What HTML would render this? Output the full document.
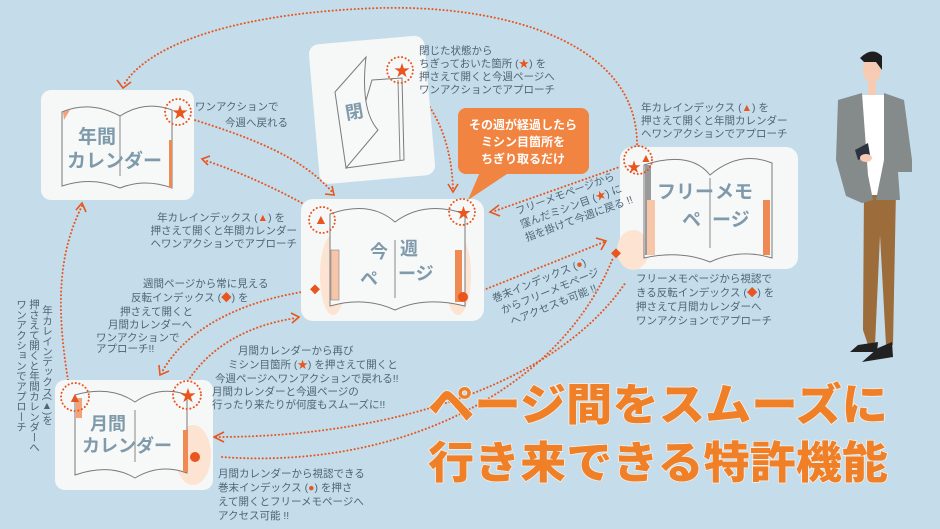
<!DOCTYPE html>
<html><head><meta charset="utf-8"><style>
html,body{margin:0;padding:0;background:#c5dcea;}
svg{display:block}
text{font-family:"Liberation Sans","Noto Sans CJK JP",sans-serif;}
.t{font-size:10.5px;fill:#4f6575}
.bk{fill:#f7f8f8;stroke:#7a7a7a;stroke-width:1}
.bl{font-weight:bold;fill:#7f9aab}
.d{fill:none;stroke:#e8551e;stroke-width:2;stroke-dasharray:0.1 3.6;stroke-linecap:round}
.c{fill:none;stroke:#e8551e;stroke-width:2;stroke-dasharray:0.1 3.6;stroke-linecap:round}
.ah{fill:none;stroke:#e8551e;stroke-width:1.6}
.o{fill:#e8551e}
</style></head><body>
<svg width="940" height="529" viewBox="0 0 940 529" xmlns="http://www.w3.org/2000/svg">
<rect width="940" height="529" fill="#c5dcea"/>

<!-- connectors -->
<path class="d" d="M637 148 C640 40 500 5 380 8 C250 12 150 40 123 86"/>
<path class="ah" d="M117 80 L123 88 L131 82"/>
<path class="d" d="M188 118 C260 140 305 160 333 193"/>
<path class="ah" d="M325 194 L334 195 L332 186"/>
<path class="d" d="M318 212 C280 190 240 172 204 160"/>
<path class="ah" d="M210 156 L202 159 L208 165"/>
<path class="d" d="M408 82 C440 110 452 150 453 190"/>
<path class="ah" d="M448 184 L453 192 L458 184"/>
<path class="d" d="M68 380 C55 300 60 250 82 206"/>
<path class="ah" d="M76 210 L82 203 L86 212"/>
<path class="d" d="M315 290 C240 300 185 330 162 372"/>
<path class="ah" d="M159 365 L160 375 L169 371"/>
<path class="d" d="M186 384 C210 345 250 325 296 318"/>
<path class="ah" d="M291 313 L299 317 L292 323"/>
<path class="d" d="M222 457 C400 470 560 390 613 258"/>
<path class="d" d="M216 437 C400 437 560 380 626 282"/>
<path class="ah" d="M224 432 L214 437 L224 442"/>
<path class="d" d="M628 164 L492 212"/>
<path class="ah" d="M499 205 L490 212 L500 216"/>
<path class="d" d="M466 297 L604 242"/>
<path class="ah" d="M596 238 L606 241 L601 250"/>

<!-- 年間 card -->
<rect x="41" y="90" width="153" height="110" rx="10" fill="#f6f7f7"/>
<path class="bk" d="M62 112 Q90 100 120 116 Q145 100 172 110 L172 188 Q145 178 120 188 Q92 176 62 186 Z"/>
<line x1="120" y1="116" x2="120" y2="176" stroke="#888"/>
<path d="M63 112 L70 110 L64 120 Z" fill="#f4a27a"/>
<rect x="169" y="140" width="3" height="48" fill="#f08a55"/>
<text class="bl" x="78" y="143" font-size="19">年間</text>
<text class="bl" x="67" y="167" font-size="19">カレンダー</text>
<circle class="c" cx="178" cy="112" r="13"/>
<text x="172" y="118" font-size="16" fill="#e8551e">★</text>
<text class="t" x="195" y="110">ワンアクションで</text>
<text class="t" x="225" y="126">今週へ戻れる</text>

<!-- 閉 card -->
<g transform="rotate(-5 370 110)">
<rect x="314" y="40" width="116" height="140" rx="10" fill="#f6f7f7"/>
</g>
<path class="bk" d="M372 80 L402 78 L404 160 L346 168 Z"/>
<path class="bk" d="M335 92 L366 57 Q360 110 378 130 L346 168 Z"/>
<line x1="398" y1="80" x2="400" y2="160" stroke="#888"/>
<text class="bl" x="345" y="118" font-size="18" transform="rotate(-10 355 110)">閉</text>
<circle class="c" cx="400" cy="70" r="13"/>
<text x="394" y="76" font-size="16" fill="#e8551e">★</text>
<text class="t" x="419" y="54">閉じた状態から</text>
<text class="t" x="419" y="67">ちぎっておいた箇所 (<tspan fill="#e8551e">★</tspan>) を</text>
<text class="t" x="419" y="80">押さえて開くと今週ページへ</text>
<text class="t" x="419" y="93">ワンアクションでアプローチ</text>

<!-- callout -->
<rect x="458" y="108" width="131" height="66" rx="8" fill="#f08440"/>
<path d="M480 172 L510 172 L468 200 Z" fill="#f08440"/>
<text x="523" y="129" font-size="12" font-weight="bold" fill="#fff" text-anchor="middle">その週が経過したら</text>
<text x="523" y="146" font-size="12" font-weight="bold" fill="#fff" text-anchor="middle">ミシン目箇所を</text>
<text x="523" y="163" font-size="12" font-weight="bold" fill="#fff" text-anchor="middle">ちぎり取るだけ</text>

<!-- 今週 card -->
<rect x="301" y="199" width="183" height="122" rx="12" fill="#f6f7f7"/>
<ellipse cx="333" cy="275" rx="13" ry="40" fill="#fde3d2"/>
<ellipse cx="458" cy="275" rx="13" ry="40" fill="#fde3d2"/>
<path class="bk" d="M330 214 Q370 200 395 222 Q425 200 465 214 L465 306 Q425 296 395 310 Q365 296 330 306 Z"/>
<line x1="395" y1="240" x2="395" y2="298" stroke="#888"/>
<rect x="331" y="250" width="8" height="50" fill="#f7c6a8" stroke="#888" stroke-width=".6"/>
<rect x="455" y="250" width="7" height="52" fill="#f08a55"/>
<text class="bl" x="370" y="258" font-size="18">今</text>
<text class="bl" x="400" y="255" font-size="18">週</text>
<text class="bl" x="360" y="285" font-size="18">ペ</text>
<text class="bl" x="398" y="280" font-size="18">ージ</text>
<circle class="c" cx="322" cy="220" r="13"/>
<text x="314" y="224" font-size="14" fill="#e8551e">▲</text>
<circle class="c" cx="462" cy="212" r="13"/>
<text x="456" y="218" font-size="15" fill="#e8551e">★</text>
<rect x="311" y="286" width="7" height="7" class="o" transform="rotate(45 315 290)"/>
<circle cx="463" cy="297" r="5" class="o"/>
<text class="t" x="285" y="221" text-anchor="end">年カレインデックス (<tspan fill="#e8551e">▲</tspan>) を</text>
<text class="t" x="297" y="234" text-anchor="end">押さえて開くと年間カレンダー</text>
<text class="t" x="297" y="247" text-anchor="end">ヘワンアクションでアプローチ</text>
<text class="t" x="143" y="287">週間ページから常に見える</text>
<text class="t" x="131" y="301">反転インデックス (<tspan fill="#e8551e">◆</tspan>) を</text>
<text class="t" x="120" y="315">押さえて開くと</text>
<text class="t" x="108" y="328">月間カレンダーへ</text>
<text class="t" x="96" y="341">ワンアクションで</text>
<text class="t" x="96" y="352">アプローチ!!</text>

<!-- free memo card -->
<rect x="620" y="147" width="178" height="122" rx="12" fill="#f6f7f7"/>
<ellipse cx="633" cy="250" rx="16" ry="20" fill="#fde3d2"/>
<path class="bk" d="M644 165 Q690 150 710 175 Q740 150 772 163 L772 258 Q740 248 710 262 Q680 250 644 258 Z"/>
<line x1="710" y1="178" x2="710" y2="248" stroke="#888"/>
<rect x="645" y="165" width="6" height="90" fill="#9a9a9a"/>
<rect x="647" y="200" width="8" height="55" fill="#f7c6a8"/>
<rect x="763" y="200" width="7" height="55" fill="#f08a55"/>
<text class="bl" x="657" y="198" font-size="19">フリー</text>
<text class="bl" x="715" y="198" font-size="19">メモ</text>
<text class="bl" x="682" y="226" font-size="19">ペ</text>
<text class="bl" x="712" y="226" font-size="19">ージ</text>
<circle class="c" cx="638" cy="160" r="14"/>
<text x="640" y="162" font-size="12" fill="#e8551e">▲</text>
<text x="627" y="172" font-size="14" fill="#e8551e">★</text>
<rect x="612" y="250" width="7" height="7" class="o" transform="rotate(45 616 254)"/>
<text class="t" x="641" y="111">年カレインデックス (<tspan fill="#e8551e">▲</tspan>) を</text>
<text class="t" x="641" y="124">押さえて開くと年間カレンダー</text>
<text class="t" x="641" y="137">ヘワンアクションでアプローチ</text>
<text class="t" x="636" y="282">フリーメモページから視認で</text>
<text class="t" x="636" y="296">きる反転インデックス (<tspan fill="#e8551e">◆</tspan>) を</text>
<text class="t" x="636" y="310">押さえて月間カレンダーへ</text>
<text class="t" x="636" y="324">ワンアクションでアプローチ</text>
<g transform="rotate(-20 560 210)">
<text class="t" x="518" y="200">フリーメモページから</text>
<text class="t" x="518" y="214">窪んだミシン目 (<tspan fill="#e8551e">★</tspan>) に</text>
<text class="t" x="518" y="228">指を掛けて今週に戻る !!</text>
</g>
<g transform="rotate(-22 530 290)">
<text class="t" x="492" y="288">巻末インデックス (<tspan fill="#e8551e">●</tspan>)</text>
<text class="t" x="496" y="302">からフリーメモページ</text>
<text class="t" x="500" y="316">へアクセスも可能 !!</text>
</g>

<!-- 月間 card -->
<rect x="55" y="380" width="158" height="110" rx="10" fill="#f6f7f7"/>
<ellipse cx="193" cy="455" rx="18" ry="30" fill="#fde3d2"/>
<path class="bk" d="M75 395 Q110 385 135 402 Q160 385 187 395 L187 473 Q160 463 135 478 Q110 463 75 475 Z"/>
<line x1="135" y1="410" x2="135" y2="462" stroke="#888"/>
<rect x="76" y="398" width="6" height="20" fill="#f4a27a"/>
<rect x="183" y="430" width="5" height="42" fill="#f08a55"/>
<text class="bl" x="90" y="430" font-size="18">月間</text>
<text class="bl" x="82" y="452" font-size="18">カレンダー</text>
<circle class="c" cx="75" cy="397" r="14"/>
<text x="68" y="402" font-size="14" fill="#e8551e">▲</text>
<circle class="c" cx="187" cy="395" r="14"/>
<text x="180" y="401" font-size="16" fill="#e8551e">★</text>
<circle cx="195" cy="457" r="5" class="o"/>
<text class="t" x="238" y="354">月間カレンダーから再び</text>
<text class="t" x="228" y="368">ミシン目箇所 (<tspan fill="#e8551e">★</tspan>) を押さえて開くと</text>
<text class="t" x="215" y="382">今週ページへワンアクションで戻れる!!</text>
<text class="t" x="212" y="395">月間カレンダーと今週ページの</text>
<text class="t" x="212" y="408">行ったり来たりが何度もスムーズに!!</text>
<text class="t" x="218" y="477">月間カレンダーから視認できる</text>
<text class="t" x="218" y="491">巻末インデックス (<tspan fill="#e8551e">●</tspan>) を押さ</text>
<text class="t" x="218" y="505">えて開くとフリーメモページへ</text>
<text class="t" x="218" y="519">アクセス可能 !!</text>

<!-- vertical text -->
<g class="t" font-size="10.5">
<text x="47" y="305" style="writing-mode:vertical-rl;letter-spacing:-0.3px">年カレインデックス(▲)を</text>
<text x="34" y="299" style="writing-mode:vertical-rl;letter-spacing:-0.3px">押さえて開くと年間カレンダーへ</text>
<text x="21" y="299" style="writing-mode:vertical-rl;letter-spacing:-0.3px">ワンアクションでアプローチ</text>
</g>

<!-- title -->
<g font-size="44" font-weight="900" fill="#f08028" stroke="#f5f0ea" stroke-width="1.5" paint-order="stroke" font-family="'Liberation Sans','Noto Sans CJK JP',sans-serif">
<text x="428" y="420" textLength="460" lengthAdjust="spacingAndGlyphs">ページ間をスムーズに</text>
<text x="428" y="478" textLength="460" lengthAdjust="spacingAndGlyphs">行き来できる特許機能</text>
</g>

<!-- person -->
<path d="M864 190 L863 330 L868 345 L875 345 L880 235 L886 345 L893 345 L896 190 Z" fill="#9d6c3b"/>
<path d="M858 345 L878 342 L877 352 L850 352 Z" fill="#222"/>
<path d="M878 348 L892 342 L893 357 L862 362 Z" fill="#222"/>
<rect x="862" y="95" width="24" height="100" fill="#fff"/>
<path d="M838 100 L862 93 L868 175 L873 200 L862 203 L846 196 L836 160 Z" fill="#858a8b"/>
<path d="M884 93 L904 100 L912 160 L912 172 L898 172 L900 200 L876 200 L884 160 Z" fill="#858a8b"/>
<path d="M855 150 L868 143 L870 155 L858 160 Z" fill="#2c3340"/>
<ellipse cx="866" cy="158" rx="6" ry="4" fill="#f5cbb4"/>
<ellipse cx="872" cy="70" rx="9" ry="13" fill="#f5cbb4"/>
<rect x="868" y="80" width="8" height="15" fill="#f5cbb4"/>
<path d="M860 58 Q872 46 882 56 L882 70 L876 62 L864 62 Z" fill="#1e1e1e"/>
</svg>
</body></html>
